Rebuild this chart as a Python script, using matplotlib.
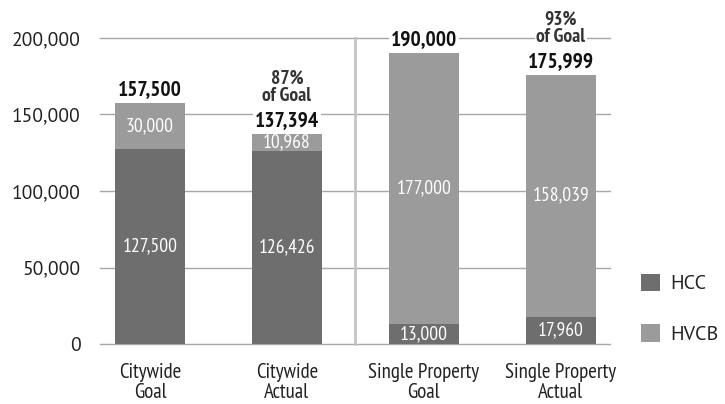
import matplotlib
matplotlib.use("Agg")
import matplotlib.pyplot as plt
from matplotlib.patches import Patch

categories = ["Citywide\nGoal", "Citywide\nActual", "Single Property\nGoal", "Single Property\nActual"]
hcc = [127500, 126426, 13000, 17960]
hvcb = [30000, 10968, 177000, 158039]
totals = [157500, 137394, 190000, 175999]
pct_of_goal = [None, "87%", None, "93%"]
yticks = [0, 50000, 100000, 150000, 200000]

HCC_COLOR = "#6e6e6e"
HVCB_COLOR = "#9b9b9b"
GRID_COLOR = "#a8a8a8"
NARROW = ["PT Sans Narrow", "DejaVu Sans"]
REGULAR = ["PT Sans", "DejaVu Sans"]

fig = plt.figure(figsize=(7.25, 4.04), dpi=100)
fig.patch.set_facecolor("white")
ax = fig.add_axes([100 / 725, 1 - 344 / 404, 510 / 725, 306 / 404])

x = list(range(len(categories)))
width = 0.51
b1 = ax.bar(x, hcc, width=width, color=HCC_COLOR, zorder=2)
b2 = ax.bar(x, hvcb, width=width, bottom=hcc, color=HVCB_COLOR, zorder=2)

ax.set_xlim(-0.365, 3.36)
ax.set_ylim(0, 200000)
ax.set_yticks(yticks)
ax.set_yticklabels([f"{v:,}" for v in yticks], family=REGULAR, fontsize=14, color="#222222")
ax.set_xticks(x)
ax.set_xticklabels(categories, family=NARROW, fontsize=15, color="#222222", linespacing=1.05)
ax.tick_params(axis="both", length=0)
ax.tick_params(axis="y", pad=14)
ax.tick_params(axis="x", pad=14)
for s in ax.spines.values():
    s.set_visible(False)

ax.set_axisbelow(True)
ax.yaxis.grid(True, color=GRID_COLOR, linewidth=1.0)
for gl in ax.get_ygridlines():
    gl.set_clip_on(False)

# divider between citywide and single-property groups
ax.plot([1.5, 1.5], [0, 200000], color="#c4c4c4", linewidth=2.0, zorder=1, clip_on=False)

# segment values inside the bars
for i in x:
    ax.text(i, hcc[i] / 2, f"{hcc[i]:,}", ha="center", va="center",
            color="white", family=NARROW, fontsize=14, zorder=3)
    ax.text(i, hcc[i] + hvcb[i] / 2, f"{hvcb[i]:,}", ha="center", va="center",
            color="white", family=NARROW, fontsize=14, zorder=3)

# totals and percent-of-goal above the bars
for i in x:
    ax.annotate(f"{totals[i]:,}", (i, totals[i]), xytext=(0, 3), textcoords="offset points",
                ha="center", va="bottom", family=NARROW, fontsize=15.5, fontweight="bold",
                color="#111111", zorder=4, annotation_clip=False,
                bbox=dict(facecolor="white", edgecolor="none", pad=1.5))
    if pct_of_goal[i]:
        ax.annotate(f"{pct_of_goal[i]}\nof Goal", (i, totals[i]), xytext=(0, 21),
                    textcoords="offset points", ha="center", va="bottom", family=NARROW,
                    fontsize=14, fontweight="bold", color="#333333", linespacing=0.9,
                    zorder=4, annotation_clip=False,
                    bbox=dict(facecolor="white", edgecolor="none", pad=1.0))

handles = [Patch(facecolor=HCC_COLOR, edgecolor="none"), Patch(facecolor=HVCB_COLOR, edgecolor="none")]
leg = ax.legend(handles, ["HCC", "HVCB"], loc="center left", bbox_to_anchor=(1.025, 0.115),
                frameon=False, handlelength=0.95, handleheight=0.95, handletextpad=0.5,
                labelspacing=1.55, prop={"family": REGULAR, "size": 14.5})
for t in leg.get_texts():
    t.set_color("#222222")

fig.savefig("out.png", dpi=100, facecolor="white")
